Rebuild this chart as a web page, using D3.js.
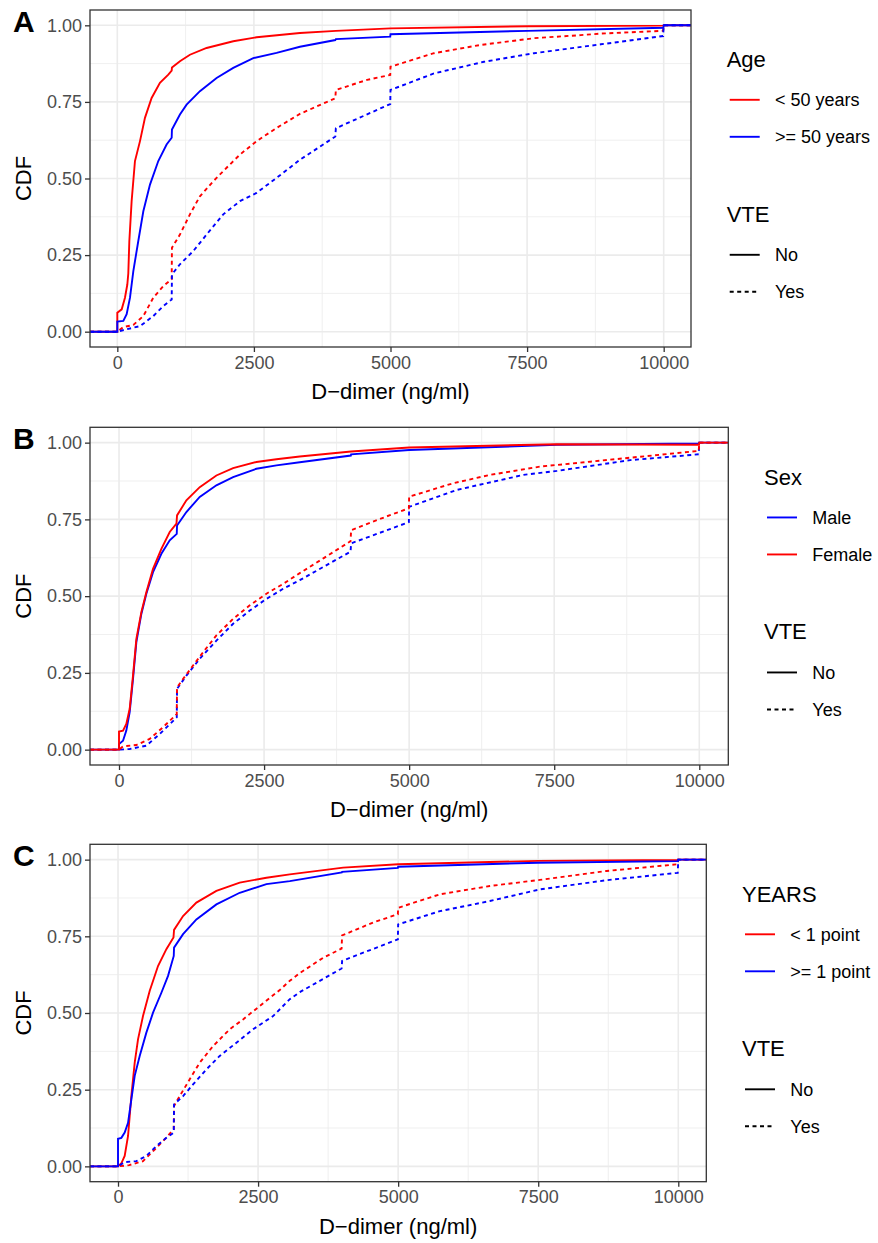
<!DOCTYPE html>
<html>
<head>
<meta charset="utf-8">
<script src="https://cdn.jsdelivr.net/npm/d3@7"></script>
<style>
  body { margin: 0; background: #fff; }
  text { font-family: "Liberation Sans", Arial, Helvetica, sans-serif; }
</style>
</head>
<body>
<div id="chart"></div>
<script>
// Panel A: Age
const ageLt50No = [[0,0],[0,0.062],[80,0.073],[140,0.111],[183,0.154],[201,0.19],[220,0.296],[262,0.426],[323,0.557],[415,0.622],[506,0.698],[628,0.763],[780,0.812],[933,0.839],[995,0.852],[1000,0.862],[1146,0.883],[1329,0.904],[1634,0.926],[2122,0.948],[2549,0.961],[3342,0.975],[4000,0.982],[5000,0.99],[7506,0.997],[9995,0.999],[10000,1]];
const ageGe50No = [[0,0],[0,0.033],[110,0.035],[171,0.057],[232,0.111],[293,0.198],[384,0.296],[476,0.393],[598,0.48],[750,0.557],[902,0.611],[995,0.633],[1000,0.66],[1146,0.709],[1268,0.741],[1512,0.785],[1817,0.828],[2122,0.861],[2488,0.893],[2915,0.91],[3342,0.93],[3990,0.952],[4000,0.955],[4995,0.963],[5000,0.971],[7506,0.982],[9995,0.992],[10000,1]];
const ageLt50Yes = [[0,0],[110,0.015],[293,0.022],[476,0.051],[659,0.111],[842,0.149],[995,0.171],[1000,0.274],[1146,0.317],[1329,0.383],[1512,0.442],[1756,0.491],[2000,0.535],[2244,0.578],[2549,0.622],[2915,0.665],[3342,0.711],[3990,0.762],[4000,0.789],[4573,0.822],[4995,0.838],[5000,0.865],[5795,0.909],[6650,0.936],[7628,0.958],[8480,0.968],[8850,0.973],[9990,0.982],[10000,1]];
const ageGe50Yes = [[0,0],[171,0.008],[415,0.018],[659,0.051],[842,0.084],[995,0.105],[1000,0.187],[1146,0.22],[1390,0.263],[1634,0.317],[1939,0.383],[2244,0.426],[2549,0.453],[2915,0.502],[3342,0.561],[3990,0.637],[4000,0.664],[4995,0.743],[5000,0.789],[5795,0.843],[6711,0.881],[7628,0.909],[8850,0.938],[9990,0.965],[10000,1]];

// Panel B: Sex
const sexMaleNo = [[0,0],[0,0.018],[69,0.029],[126,0.062],[184,0.122],[241,0.23],[299,0.35],[385,0.442],[471,0.508],[586,0.578],[730,0.638],[874,0.682],[995,0.703],[1000,0.73],[1161,0.774],[1391,0.823],[1678,0.861],[1966,0.888],[2368,0.915],[2713,0.926],[3115,0.936],[3995,0.958],[4000,0.962],[5000,0.976],[7545,0.993],[9995,0.997],[10000,1]];
const sexFemaleNo = [[0,0],[0,0.059],[69,0.062],[126,0.084],[184,0.133],[241,0.241],[299,0.361],[385,0.448],[471,0.513],[586,0.589],[730,0.654],[874,0.709],[990,0.736],[1000,0.763],[1161,0.812],[1391,0.855],[1678,0.893],[1966,0.917],[2368,0.937],[2713,0.946],[3115,0.955],[4000,0.971],[5000,0.984],[7545,0.995],[9995,0.993],[10000,1]];
const sexFemaleYes = [[0,0],[69,0.011],[299,0.015],[529,0.035],[759,0.073],[995,0.116],[1000,0.203],[1103,0.23],[1276,0.274],[1448,0.317],[1678,0.372],[1966,0.426],[2253,0.47],[2540,0.508],[2828,0.54],[3115,0.575],[3521,0.623],[3990,0.679],[4000,0.715],[4670,0.764],[4995,0.786],[5000,0.824],[5762,0.868],[6395,0.895],[7257,0.922],[8120,0.938],[8810,0.951],[9990,0.973],[10000,1]];
const sexMaleYes = [[0,0],[184,0.002],[471,0.013],[701,0.051],[995,0.105],[1000,0.198],[1161,0.241],[1391,0.296],[1678,0.355],[1966,0.41],[2253,0.453],[2540,0.491],[2828,0.524],[3115,0.552],[3990,0.645],[4000,0.672],[4995,0.741],[5000,0.791],[5820,0.846],[6970,0.895],[7545,0.908],[8810,0.943],[9990,0.962],[10000,1]];

// Panel C: YEARS
const yearsLt1No = [[0,0],[60,0.01],[119,0.034],[179,0.099],[238,0.229],[298,0.338],[357,0.414],[446,0.49],[565,0.572],[714,0.653],[863,0.708],[990,0.746],[1000,0.771],[1161,0.816],[1399,0.86],[1756,0.898],[2172,0.925],[2649,0.941],[3066,0.952],[4018,0.974],[5000,0.985],[7500,0.996],[9995,0.999],[10000,1]];
const yearsGe1No = [[0,0],[0,0.09],[60,0.093],[119,0.11],[179,0.142],[238,0.218],[298,0.295],[387,0.36],[506,0.436],[625,0.501],[774,0.566],[893,0.621],[995,0.686],[1000,0.713],[1161,0.757],[1399,0.805],[1756,0.854],[2172,0.892],[2649,0.92],[3066,0.93],[3995,0.958],[4000,0.96],[4995,0.973],[5000,0.977],[7500,0.99],[9995,0.995],[10000,1]];
const yearsLt1Yes = [[0,0],[200,0.004],[446,0.017],[655,0.055],[833,0.088],[995,0.121],[1000,0.197],[1101,0.229],[1280,0.284],[1458,0.338],[1696,0.392],[1994,0.447],[2232,0.479],[2530,0.523],[2887,0.575],[3066,0.605],[3244,0.63],[3661,0.68],[3990,0.71],[4000,0.753],[4554,0.795],[4995,0.822],[5000,0.843],[5745,0.887],[6637,0.914],[7530,0.934],[8721,0.963],[9990,0.985],[10000,1]];
const yearsGe1Yes = [[0,0],[119,0.014],[327,0.017],[506,0.034],[684,0.066],[863,0.093],[995,0.11],[1000,0.202],[1161,0.229],[1339,0.267],[1577,0.316],[1815,0.36],[2113,0.403],[2411,0.447],[2768,0.49],[3066,0.545],[3244,0.568],[3990,0.645],[4000,0.67],[4995,0.74],[5000,0.789],[5745,0.832],[6637,0.865],[7530,0.903],[8721,0.933],[9990,0.957],[10000,1]];

const xTicks = [0, 2500, 5000, 7500, 10000];
const xMinor = [1250, 3750, 6250, 8750];
const yTicks = [0, 0.25, 0.5, 0.75, 1];
const yMinor = [0.125, 0.375, 0.625, 0.875];
const vteLabels = ["No", "Yes"];

const RED = "#FF0000", BLUE = "#0000FF";

const panels = [
  { letter: "A", top: 10, bottom: 347, right: 691, legendTitle: "Age",
    groups: [{ label: "< 50 years", color: RED }, { label: ">= 50 years", color: BLUE }],
    curves: [[ageLt50No, RED, false], [ageLt50Yes, RED, true], [ageGe50No, BLUE, false], [ageGe50Yes, BLUE, true]] },
  { letter: "B", top: 427.3, bottom: 765, right: 728.3, legendTitle: "Sex",
    groups: [{ label: "Male", color: BLUE }, { label: "Female", color: RED }],
    curves: [[sexMaleNo, BLUE, false], [sexMaleYes, BLUE, true], [sexFemaleNo, RED, false], [sexFemaleYes, RED, true]] },
  { letter: "C", top: 844.3, bottom: 1181.7, right: 706.3, legendTitle: "YEARS",
    groups: [{ label: "< 1 point", color: RED }, { label: ">= 1 point", color: BLUE }],
    curves: [[yearsLt1No, RED, false], [yearsLt1Yes, RED, true], [yearsGe1No, BLUE, false], [yearsGe1Yes, BLUE, true]] }
];

const W = 878, H = 1243, LEFT = 90;
const svg = d3.select("#chart").append("svg").attr("width", W).attr("height", H);
svg.append("rect").attr("width", W).attr("height", H).attr("fill", "#fff");

panels.forEach((p, pi) => {
  const x = d3.scaleLinear().domain([-500, 10500]).range([LEFT, p.right]);
  const y = d3.scaleLinear().domain([-0.05, 1.05]).range([p.bottom, p.top]);
  const g = svg.append("g");

  // grid
  g.selectAll(".xminor").data(xMinor).enter().append("line")
    .attr("x1", d => x(d)).attr("x2", d => x(d)).attr("y1", p.top).attr("y2", p.bottom)
    .attr("stroke", "#EBEBEB").attr("stroke-width", 0.8);
  g.selectAll(".yminor").data(yMinor).enter().append("line")
    .attr("y1", d => y(d)).attr("y2", d => y(d)).attr("x1", LEFT).attr("x2", p.right)
    .attr("stroke", "#EBEBEB").attr("stroke-width", 0.8);
  g.selectAll(".xmajor").data(xTicks).enter().append("line")
    .attr("x1", d => x(d)).attr("x2", d => x(d)).attr("y1", p.top).attr("y2", p.bottom)
    .attr("stroke", "#EBEBEB").attr("stroke-width", 1.6);
  g.selectAll(".ymajor").data(yTicks).enter().append("line")
    .attr("y1", d => y(d)).attr("y2", d => y(d)).attr("x1", LEFT).attr("x2", p.right)
    .attr("stroke", "#EBEBEB").attr("stroke-width", 1.6);

  // clip + curves (padded to the panel edges like stat_ecdf)
  const clipId = "clip" + pi;
  svg.append("clipPath").attr("id", clipId).append("rect")
    .attr("x", LEFT).attr("y", p.top).attr("width", p.right - LEFT).attr("height", p.bottom - p.top);
  const line = d3.line().x(d => x(d[0])).y(d => y(d[1]));
  const cg = g.append("g").attr("clip-path", `url(#${clipId})`);
  p.curves.forEach(([data, color, dashed]) => {
    const pts = [[x.domain()[0], 0]].concat(data, [[x.domain()[1], 1]]);
    cg.append("path").attr("d", line(pts))
      .attr("fill", "none").attr("stroke", color).attr("stroke-width", 1.9)
      .attr("stroke-dasharray", dashed ? "4,3.5" : null);
  });

  // border
  g.append("rect").attr("x", LEFT).attr("y", p.top).attr("width", p.right - LEFT).attr("height", p.bottom - p.top)
    .attr("fill", "none").attr("stroke", "#333333").attr("stroke-width", 1.3);

  // axes
  const xAxis = d3.axisBottom(x).tickValues(xTicks).tickFormat(d3.format("d")).tickSize(5).tickPadding(4);
  const yAxis = d3.axisLeft(y).tickValues(yTicks).tickFormat(d3.format(".2f")).tickSize(5).tickPadding(3);
  const gx = g.append("g").attr("transform", `translate(0,${p.bottom})`).call(xAxis);
  const gy = g.append("g").attr("transform", `translate(${LEFT},0)`).call(yAxis);
  [gx, gy].forEach(a => {
    a.select(".domain").remove();
    a.selectAll(".tick line").attr("stroke", "#333333").attr("stroke-width", 1.3);
    a.selectAll(".tick text").attr("fill", "#4D4D4D").attr("font-size", 18)
      .attr("font-family", "'Liberation Sans', Arial, Helvetica, sans-serif");
  });

  const midY = (p.top + p.bottom) / 2;
  g.append("text").attr("x", (LEFT + p.right) / 2).attr("y", p.bottom + 52)
    .attr("text-anchor", "middle").attr("font-size", 22).text("D\u2212dimer (ng/ml)");
  g.append("text").attr("transform", `translate(31,${midY}) rotate(-90)`)
    .attr("text-anchor", "middle").attr("font-size", 22).text("CDF");
  g.append("text").attr("x", 13).attr("y", p.top + 21.7)
    .attr("font-size", 30).attr("font-weight", "bold").text(p.letter);

  // legend
  const lx = p.right + 35.7;
  const lg = g.append("g");
  lg.append("text").attr("x", lx).attr("y", midY - 111.5).attr("font-size", 22).text(p.legendTitle);
  const keyY1 = [midY - 78.7, midY - 41.7];
  p.groups.forEach((gr, i) => {
    lg.append("line").attr("x1", lx + 3).attr("x2", lx + 33).attr("y1", keyY1[i]).attr("y2", keyY1[i])
      .attr("stroke", gr.color).attr("stroke-width", 1.9);
    lg.append("text").attr("x", p.right + 84).attr("y", keyY1[i]).attr("dy", "0.36em")
      .attr("font-size", 18).text(gr.label);
  });
  lg.append("text").attr("x", lx).attr("y", midY + 43.2).attr("font-size", 22).text("VTE");
  const keyY2 = [midY + 76.3, midY + 113.3];
  vteLabels.forEach((lab, i) => {
    lg.append("line").attr("x1", lx + 3).attr("x2", lx + 33).attr("y1", keyY2[i]).attr("y2", keyY2[i])
      .attr("stroke", "#000").attr("stroke-width", 1.9)
      .attr("stroke-dasharray", i === 1 ? "4,3.5" : null);
    lg.append("text").attr("x", p.right + 84).attr("y", keyY2[i]).attr("dy", "0.36em")
      .attr("font-size", 18).text(lab);
  });
});
</script>
</body>
</html>
